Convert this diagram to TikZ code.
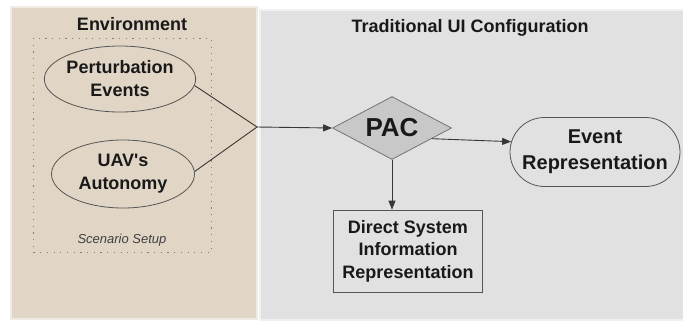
\documentclass[tikz,border=0pt]{standalone}
\usepackage{fontspec}
\setmainfont{Liberation Sans}
\usetikzlibrary{shapes.geometric,shapes.misc,arrows.meta}
\definecolor{beige}{RGB}{225,214,198}
\definecolor{panelgray}{RGB}{225,225,225}
\definecolor{diamondgray}{RGB}{200,200,200}
\definecolor{linecol}{RGB}{55,55,55}
\tikzset{
  every node/.style={text=black!90, align=center},
  lbl/.style={font=\fontsize{18}{23}\selectfont\bfseries},
  ellnode/.style={ellipse, draw=linecol!85, line width=0.8pt, inner sep=0pt, lbl},
  conn/.style={draw=linecol, line width=0.9pt},
  arr/.style={conn, -{Triangle[length=9pt,width=7pt]}},
  title/.style={font=\fontsize{18}{22}\selectfont\bfseries}
}
\begin{document}
\begin{tikzpicture}[x=1pt,y=-1pt]
\useasboundingbox (0,0) rectangle (683,322);
\fill[white] (0,0) rectangle (683,322);
% panels
\fill[beige!50] (10,6) rectangle (258,320);
\fill[beige] (12,8) rectangle (256,318);
\fill[panelgray!50] (259,9) rectangle (683,321);
\fill[panelgray] (261,11) rectangle (683,319);
% titles
\node[title] (envt) at (132,24) {Environment};
\node[title] (uit) at (470,28) {Traditional UI Configuration};
% dotted scenario box
\draw[gray, line width=0.9pt, dash pattern=on 1.2pt off 5.5pt] (33,38) rectangle (211,252);
\node[font=\fontsize{13}{15}\selectfont\itshape, text=black!75] (scn) at (122,240) {Scenario Setup};
% ellipses
\node[ellnode, minimum width=143pt, minimum height=66pt] (pe) at (120,79) {Perturbation\\Events};
\node[ellnode, minimum width=143pt, minimum height=68pt] (uav) at (123,174) {UAV\textquotesingle s\\Autonomy};
% junction
\coordinate (j) at (257,127);
\draw[conn] (pe.-5) -- (j);
\draw[conn] (uav.2) -- (j);
% PAC diamond
\node[diamond, aspect=1.9, draw=gray!90!black, fill=diamondgray, line width=0.8pt, inner sep=0pt,
      minimum width=119pt, minimum height=63pt, font=\fontsize{26}{28}\selectfont\bfseries] (pac) at (392,128) {PAC};
\draw[arr] (j) -- (pac.west);
% Event representation
\node[rounded rectangle, draw=linecol!85, line width=0.8pt, minimum width=170pt, minimum height=69pt,
      inner sep=0pt, font=\fontsize{20}{26}\selectfont\bfseries] (er) at (595,152) {Event\\Representation};
\draw[arr] (pac.-15) -- (er.173);
% Direct system box
\node[rectangle, draw=linecol!85, line width=0.8pt, minimum width=149pt, minimum height=82pt,
      inner sep=0pt, font=\fontsize{18}{22.5}\selectfont\bfseries] (ds) at (408,251) {Direct System\\Information\\Representation};
\draw[arr] (pac.south) -- (pac.south |- ds.north);
\end{tikzpicture}
\end{document}
